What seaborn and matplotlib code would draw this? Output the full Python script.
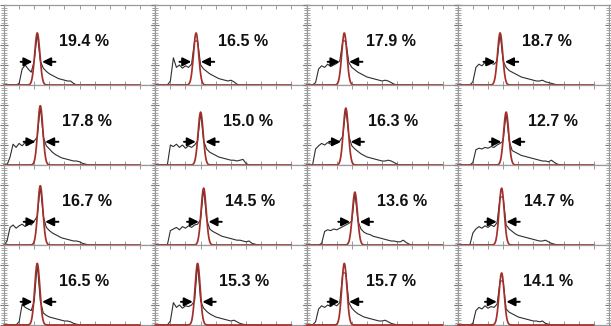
import numpy as np
import matplotlib
matplotlib.use("Agg")
import matplotlib.pyplot as plt
from matplotlib.ticker import MultipleLocator
import seaborn as sns

# percent labels, row by row
labels = ["19.4 %", "16.5 %", "17.9 %", "18.7 %",
          "17.8 %", "15.0 %", "16.3 %", "12.7 %",
          "16.7 %", "14.5 %", "13.6 %", "14.7 %",
          "16.5 %", "15.3 %", "15.7 %", "14.1 %"]

# gaussian fit: centre (channel, 0-100), height, sigma
peak_pos = [22, 27, 25, 28,
            24, 30, 26, 32,
            24, 32, 32, 29,
            22, 28, 25, 29]
peak_h = [0.65, 0.65, 0.65, 0.65,
          0.74, 0.66, 0.71, 0.66,
          0.74, 0.71, 0.66, 0.71,
          0.77, 0.77, 0.77, 0.65]
sigma = [1.7] * 16

# measured histograms, channel 0, 2, 4, ... (missing tail = 0)
channels = np.arange(0, 72, 2)
hists = [
    [0, 0, 0, 0, 0, 0.02, 0.2, 0.25, 0.2, 0.16, 0.3, 0.65, 0.3, 0.21, 0.17, 0.14, 0.12, 0.1, 0.08, 0.07, 0.06, 0.05, 0.05, 0.02],
    [0, 0, 0, 0, 0, 0.05, 0.34, 0.22, 0.25, 0.21, 0.24, 0.22, 0.26, 0.55, 0.55, 0.25, 0.2, 0.17, 0.14, 0.12, 0.1, 0.08, 0.07, 0.06, 0.05, 0.06, 0.04, 0.01],
    [0, 0, 0, 0.03, 0.2, 0.24, 0.22, 0.26, 0.23, 0.25, 0.27, 0.3, 0.55, 0.55, 0.28, 0.22, 0.19, 0.16, 0.14, 0.12, 0.1, 0.09, 0.08, 0.07, 0.06, 0.05, 0.06, 0.05, 0.03, 0.01],
    [0, 0, 0, 0, 0, 0.04, 0.22, 0.26, 0.24, 0.28, 0.25, 0.27, 0.26, 0.3, 0.65, 0.3, 0.22, 0.18, 0.16, 0.14, 0.12, 0.1, 0.09, 0.08, 0.07, 0.06, 0.05, 0.05, 0.06, 0.04, 0.03, 0.02, 0.01],
    [0, 0, 0.1, 0.26, 0.22, 0.27, 0.24, 0.28, 0.25, 0.29, 0.3, 0.35, 0.74, 0.35, 0.24, 0.2, 0.16, 0.13, 0.11, 0.09, 0.08, 0.07, 0.06, 0.05, 0.05, 0.04, 0.02, 0.01],
    [0, 0, 0, 0, 0, 0.25, 0.23, 0.26, 0.22, 0.25, 0.21, 0.24, 0.22, 0.25, 0.3, 0.66, 0.3, 0.2, 0.16, 0.14, 0.12, 0.1, 0.09, 0.08, 0.07, 0.06, 0.06, 0.05, 0.06, 0.07, 0.02],
    [0, 0, 0, 0.2, 0.24, 0.27, 0.25, 0.28, 0.26, 0.29, 0.27, 0.3, 0.36, 0.71, 0.36, 0.24, 0.2, 0.17, 0.14, 0.12, 0.1, 0.09, 0.08, 0.07, 0.06, 0.05, 0.05, 0.06, 0.05, 0.03, 0.01],
    [0, 0, 0, 0, 0, 0.03, 0.19, 0.21, 0.2, 0.22, 0.21, 0.23, 0.22, 0.25, 0.27, 0.3, 0.66, 0.3, 0.18, 0.16, 0.14, 0.12, 0.11, 0.1, 0.09, 0.08, 0.07, 0.06, 0.05, 0.05, 0.04, 0.06, 0.03, 0.01],
    [0, 0.05, 0.22, 0.25, 0.21, 0.24, 0.26, 0.23, 0.27, 0.25, 0.3, 0.36, 0.74, 0.36, 0.22, 0.18, 0.15, 0.13, 0.11, 0.09, 0.08, 0.07, 0.06, 0.05, 0.05, 0.04, 0.02, 0.01],
    [0, 0, 0, 0, 0, 0.18, 0.2, 0.22, 0.19, 0.23, 0.21, 0.24, 0.22, 0.25, 0.26, 0.32, 0.71, 0.32, 0.2, 0.17, 0.15, 0.13, 0.11, 0.1, 0.09, 0.08, 0.07, 0.06, 0.06, 0.05, 0.04, 0.05, 0.02, 0.01],
    [0, 0, 0, 0, 0, 0.02, 0.17, 0.19, 0.18, 0.2, 0.19, 0.21, 0.23, 0.25, 0.27, 0.3, 0.66, 0.3, 0.2, 0.16, 0.14, 0.13, 0.11, 0.1, 0.09, 0.08, 0.07, 0.06, 0.05, 0.05, 0.04, 0.04, 0.06, 0.03, 0.01],
    [0, 0, 0, 0, 0, 0.15, 0.2, 0.23, 0.21, 0.24, 0.22, 0.25, 0.23, 0.28, 0.6, 0.6, 0.25, 0.2, 0.17, 0.14, 0.12, 0.11, 0.1, 0.09, 0.08, 0.07, 0.06, 0.05, 0.05, 0.06, 0.04, 0.02, 0.01],
    [0, 0, 0, 0, 0, 0.04, 0.26, 0.22, 0.2, 0.18, 0.3, 0.77, 0.3, 0.15, 0.12, 0.1, 0.09, 0.08, 0.07, 0.06, 0.05, 0.05, 0.04, 0.02, 0.01],
    [0, 0, 0, 0, 0, 0.05, 0.28, 0.22, 0.25, 0.21, 0.24, 0.23, 0.25, 0.3, 0.77, 0.3, 0.21, 0.17, 0.14, 0.12, 0.1, 0.09, 0.08, 0.07, 0.06, 0.05, 0.06, 0.04, 0.02, 0.01],
    [0, 0, 0, 0.04, 0.2, 0.24, 0.22, 0.25, 0.23, 0.26, 0.24, 0.28, 0.65, 0.65, 0.28, 0.21, 0.17, 0.14, 0.12, 0.1, 0.09, 0.08, 0.07, 0.06, 0.05, 0.05, 0.06, 0.04, 0.02, 0.01],
    [0, 0, 0, 0, 0, 0.02, 0.18, 0.22, 0.2, 0.24, 0.21, 0.23, 0.22, 0.26, 0.55, 0.55, 0.2, 0.16, 0.14, 0.12, 0.1, 0.09, 0.08, 0.07, 0.06, 0.05, 0.05, 0.04, 0.05, 0.02, 0.01],
]

sns.set_theme(style="white")
plt.rcParams["font.family"] = ["Liberation Sans", "DejaVu Sans"]

fig, axes = plt.subplots(4, 4, figsize=(6.11, 3.26), dpi=100)
fig.subplots_adjust(left=4 / 611, right=609 / 611, top=1 - 5 / 326, bottom=1 - 325 / 326,
                    wspace=0, hspace=0)

spine_c = "#9a9a9a"
red = "#a3302b"
xfit = np.linspace(0, 90, 600)
arrow_kw = dict(arrowstyle="-|>,head_length=0.5,head_width=0.25", color="black",
                lw=1.4, shrinkA=0, shrinkB=0, mutation_scale=10)

for i, ax in enumerate(axes.flat):
    y = np.zeros(len(channels))
    y[:len(hists[i])] = hists[i]
    sns.lineplot(x=channels, y=y, ax=ax, color="#2e2e2e", lw=0.8)

    fit = peak_h[i] * np.exp(-(xfit - peak_pos[i]) ** 2 / (2 * sigma[i] ** 2))
    sns.lineplot(x=xfit, y=fit, ax=ax, color=red, lw=1.25, clip_on=False, zorder=4)

    # FWHM arrows
    ay = 0.29
    p = peak_pos[i]
    ax.annotate("", xy=(p - 3.2, ay), xytext=(p - 11, ay), arrowprops=arrow_kw, zorder=5)
    ax.annotate("", xy=(p + 3.2, ay), xytext=(p + 12, ay), arrowprops=arrow_kw, zorder=5)

    ax.text(p + 31, 0.55, labels[i], ha="center", va="center",
            fontsize=11.5, fontweight="bold", color="#111")

    ax.set_xlim(0, 100)
    ax.set_ylim(0, 1)
    ax.set_xticks(np.arange(0, 101, 10))
    ax.set_yticks([0, 0.25, 0.5, 0.75, 1])
    ax.yaxis.set_minor_locator(MultipleLocator(1 / 32))
    ax.tick_params(axis="x", which="both", direction="in", length=3, width=0.7,
                   color=spine_c, top=True, bottom=True, labelbottom=False)
    ax.tick_params(axis="y", which="major", direction="inout", length=6, width=0.8,
                   color="#777", left=True, right=True, labelleft=False)
    ax.tick_params(axis="y", which="minor", direction="inout", length=4, width=0.6,
                   color=spine_c, left=True, right=True)
    ax.set_xlabel("")
    ax.set_ylabel("")
    for s in ax.spines.values():
        s.set_color(spine_c)
        s.set_linewidth(0.9)

fig.savefig("out.png", dpi=100)
